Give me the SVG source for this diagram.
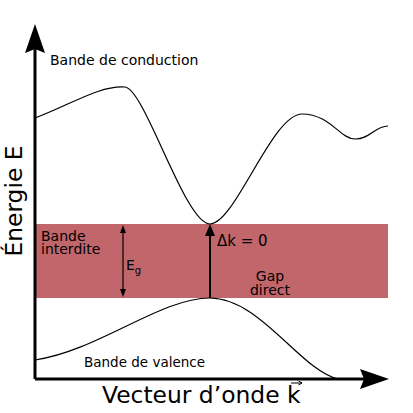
<svg xmlns="http://www.w3.org/2000/svg" width="413" height="413" viewBox="0 0 413 413">
<style>
text{font-family:"DejaVu Sans","Liberation Sans",sans-serif;fill:#000}
.s{font-size:14px}
.b{font-size:23.4px}
.curve{fill:none;stroke:#000;stroke-width:1.2}
.ax{stroke:#000;stroke-width:3;fill:none}
</style>
<rect x="36" y="224" width="352" height="74" fill="#c1676c"/>
<g id="connectors">
<path class="ax" d="M35,379 V48"/>
<path d="M35,24 L25,53 L35,49 L45,53 Z" fill="#000"/>
<path class="ax" d="M35,379 H365"/>
<path d="M389,379 L360,369 L364,379 L360,389 Z" fill="#000"/>
<path d="M210,298 V234" stroke="#000" stroke-width="2" fill="none"/>
<path d="M210,224 L205,236 L215,236 Z" fill="#000"/>
<path d="M123,231 V291" stroke="#000" stroke-width="1.2" fill="none"/>
<path d="M123,225 L120,233 L126,233 Z M123,297 L120,289 L126,289 Z" fill="#000"/>
</g>
<g id="conduction">
<path class="curve" d="M35,118 C70,105 100,85 125,87 C145,89 185,224 210,224 C235,224 272,114 302,114 C330,114 340,139 355,139 C370,139 375,126 388,126"/>
<text class="s" x="50" y="65">Bande de conduction</text>
</g>
<g id="valence">
<path class="curve" d="M35,360 C100,350 160,298 210,298 C260,298 300,370 338,379"/>
<text x="84" y="367" font-size="13.5">Bande de valence</text>
</g>
<g id="gap">
<text class="s" x="41" y="241">Bande</text>
<text class="s" x="41" y="254">interdite</text>
<text class="s" x="126" y="270">E<tspan font-size="10" dy="4">g</tspan></text>
<text x="217" y="246" font-size="15">Δk = 0</text>
<text class="s" x="270" y="281" text-anchor="middle">Gap</text>
<text class="s" x="270" y="295" text-anchor="middle">direct</text>
</g>
<g id="axes-labels">
<text class="b" transform="translate(22,201) rotate(-90)" text-anchor="middle">Énergie E</text>
<text class="b" x="102" y="403">Vecteur d’onde k</text>
<path d="M291,383 H302 M298.5,381 L302,383 L298.5,385" stroke="#000" stroke-width="1" fill="none"/>
</g>
</svg>
